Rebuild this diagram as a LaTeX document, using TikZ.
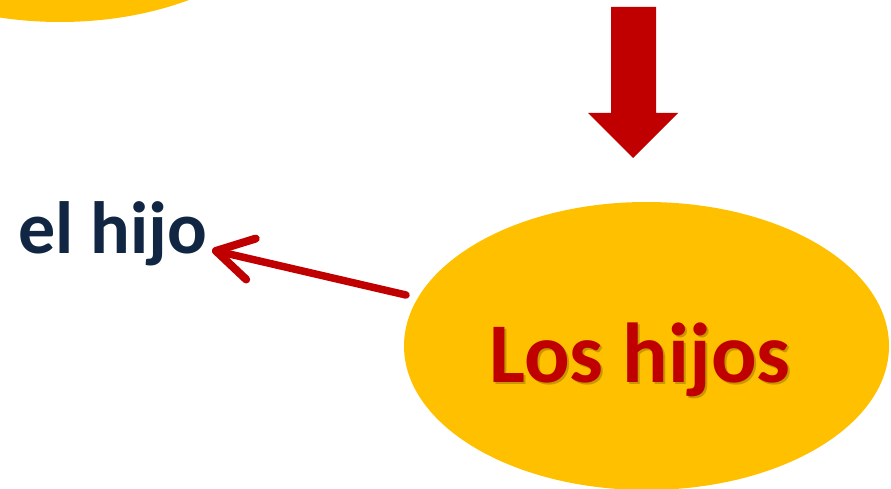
\documentclass[tikz,border=0pt]{standalone}
\usepackage{fontspec}
\setmainfont{Carlito}
\usetikzlibrary{arrows.meta,shapes.geometric}
\definecolor{gold}{RGB}{255,192,0}
\definecolor{darkred}{RGB}{192,0,0}
\definecolor{navy}{RGB}{17,38,66}
\tikzset{
  bubble/.style={ellipse, fill=gold, minimum width=485pt, minimum height=288pt, inner sep=0pt},
  wordlabel/.style={font=\bfseries\fontsize{74}{78}\selectfont, text=navy, inner sep=0pt, anchor=base west},
  link/.style={draw=darkred, line width=7.5pt, line cap=round, line join=round,
    -{Straight Barb[length=36pt, width=42pt, line width=8pt, round]}},
  blockarrow/.style={fill=darkred}
}
\begin{document}
\begin{tikzpicture}[x=1pt,y=-1pt]
\useasboundingbox (0,0) rectangle (891,489);
\begin{scope}
\clip (0,0) rectangle (891,489);
\node[bubble] (top) at (60,-122) {};
\node[bubble] (kids) at (646.5,346) {};
\node[font=\bfseries\fontsize{85}{90}\selectfont, text=black!70!gold, opacity=0.3, inner sep=0pt] at (642,362) {Los hijos};
\node[font=\bfseries\fontsize{85}{90}\selectfont, text=darkred, inner sep=0pt] (kidstext) at (640,360) {Los hijos};
\end{scope}
\node[wordlabel] (hijo) at (18,253) {el hijo};
\coordinate (hijoend) at (212,250);
\coordinate (start) at (406,295);
\draw[link] (start) -- (hijoend);
\fill[blockarrow] (611,7) -- (656,7) -- (656,113) -- (678,113) -- (633,158) -- (588,113) -- (611,113) -- cycle;
\end{tikzpicture}
\end{document}
